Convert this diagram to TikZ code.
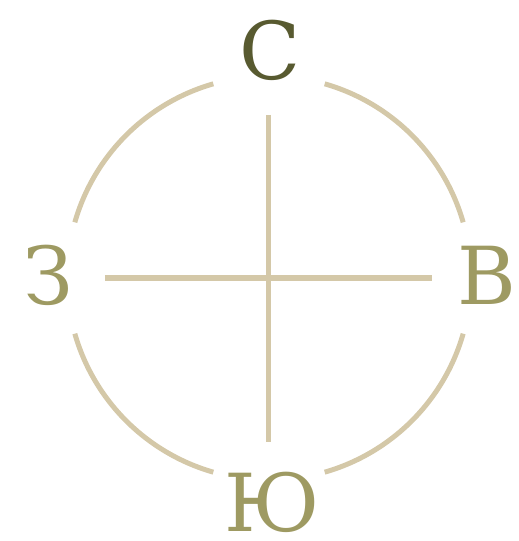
\documentclass[tikz,border=0pt]{standalone}
\usepackage{fontspec}
\setmainfont{DejaVu Serif}
\usepackage{xcolor}
\usetikzlibrary{positioning}
\definecolor{RingTan}{HTML}{D4C8A8}
\definecolor{NorthOlive}{HTML}{585A30}
\definecolor{SideOlive}{HTML}{9E9A62}

\begin{document}
\begin{tikzpicture}[x=1pt, y=1pt,
            ringline/.style={draw=RingTan, line width=5pt},
            dirlabel/.style={inner sep=0pt, text=SideOlive, font=\fontsize{80}{80}\selectfont}
        ]
            \useasboundingbox (-269,-263) rectangle (250,278);

            % ring, broken at the four points
            \foreach \a in {16, 106, 196, 286} {
                \draw[ringline] (\a:202) arc[start angle=\a, end angle=\a+58, radius=202];
            }

            % cross
            \coordinate (top) at (0,163);
            \coordinate (bottom) at (0,-164);
            \coordinate (left) at (-164,0);
            \coordinate (right) at (163,0);
            \draw[ringline] (top) -- (bottom);
            \draw[ringline] (left) -- (right);

            % labels
            \node[dirlabel, text=NorthOlive] at (1,228) (north) {С};
            \node[dirlabel] at (218,3) (east) {В};
            \node[dirlabel] at (3,-224) (south) {Ю};
            \node[dirlabel] at (-221,3) (west) {З};

        \end{tikzpicture}
\end{document}
